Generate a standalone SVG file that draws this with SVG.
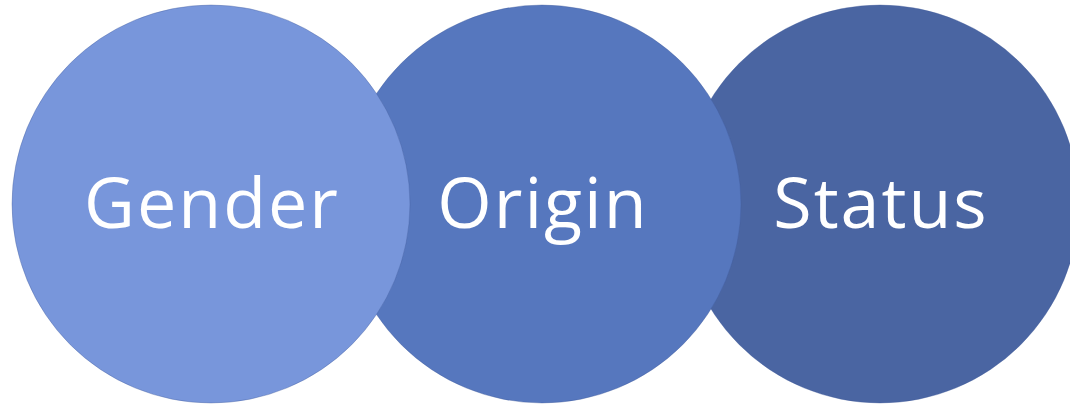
<svg xmlns="http://www.w3.org/2000/svg" width="1070" height="404" viewBox="0 0 1070 404">
<style>
.c{stroke:#3f5a99;stroke-opacity:0.35;stroke-width:1}
.t{font-family:"Open Sans","DejaVu Sans",sans-serif;font-size:70px;fill:#ffffff;text-anchor:middle;letter-spacing:2px}
</style>
<rect width="1070" height="404" fill="#ffffff"/>
<g id="status">
<circle class="c" cx="880" cy="204" r="199" fill="#4a65a2"/>
<text class="t" x="881" y="228">Status</text>
</g>
<g id="origin">
<circle class="c" cx="542" cy="204" r="199" fill="#5677be"/>
<text class="t" x="543" y="228">Origin</text>
</g>
<g id="gender">
<circle class="c" cx="211" cy="204" r="199" fill="#7896db"/>
<text class="t" x="212" y="228">Gender</text>
</g>
<g id="connectors"/>
</svg>
